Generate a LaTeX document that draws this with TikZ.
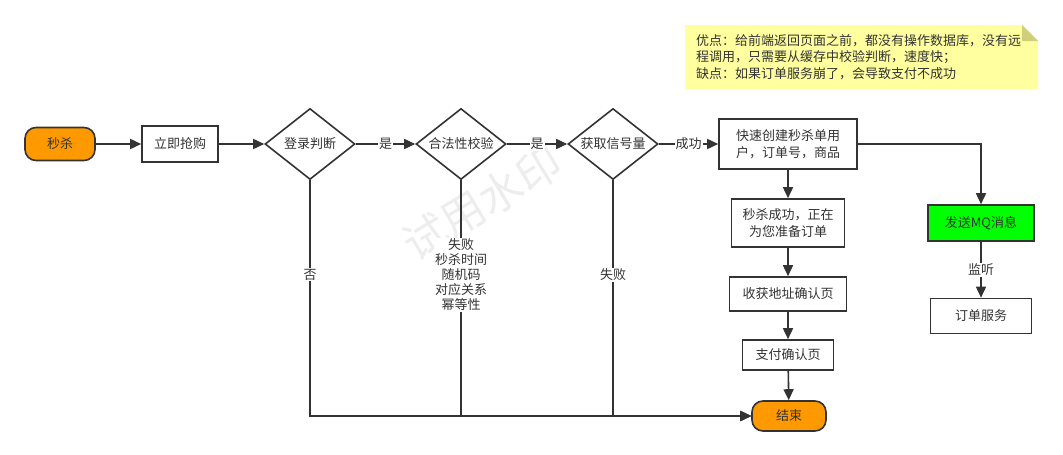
\documentclass[tikz,border=0pt]{standalone}
\usepackage{fontspec}
\setmainfont{Noto Sans CJK SC}
\usetikzlibrary{arrows.meta, positioning, shapes.geometric}

\definecolor{ink}{HTML}{333333}
\definecolor{startorange}{HTML}{FF9900}
\definecolor{mqgreen}{HTML}{00FF00}
\definecolor{notefill}{HTML}{FFFF9F}
\definecolor{notefold}{HTML}{CFCF7A}

\tikzset{
  base/.style={draw=ink, line width=1.6pt, text=ink, inner sep=0pt, align=center},
  term/.style={base, rounded corners=11pt, fill=startorange},
  proc/.style={base, rectangle, fill=white},
  decide/.style={base, diamond, aspect=1.27, fill=white, minimum width=90pt, minimum height=71pt},
  flow/.style={->, draw=ink, line width=1.6pt},
  lbl/.style={fill=white, text=ink, inner sep=1pt, align=center, font=\fontsize{13}{15}\selectfont}
}

\begin{document}
\begin{tikzpicture}[>={Triangle[length=11pt,width=10pt]}, x=1pt, y=-1pt,
  font=\fontsize{13}{17}\selectfont]
  \useasboundingbox (0,0) rectangle (1063,455);
  % watermark
  \node[rotate=31, text=black!7, font=\fontsize{44}{44}\selectfont] (mark) at (482,203) {试用水印};

  % note
  \fill[notefill] (685,25) -- (1022,25) -- (1038,41) -- (1038,89) -- (685,89) -- cycle;
  \fill[notefold] (1022,25) -- (1038,41) -- (1022,41) -- cycle;
  \node[anchor=north west, text=ink, align=left, inner sep=0pt,
        font=\fontsize{13}{16.5}\selectfont] (memo) at (696,34)
    {优点：给前端返回页面之前，都没有操作数据库，没有远\\
     程调用，只需要从缓存中校验判断，速度快；\\
     缺点：如果订单服务崩了，会导致支付不成功};

  % main flow
  \node[term, minimum width=70pt, minimum height=33pt] (start) at (60,144) {秒杀};
  \node[proc, minimum width=76pt, minimum height=36pt] (buy) at (180,144) {立即抢购};
  \node[decide] (login) at (310,144) {登录判断};
  \node[decide] (check) at (461,144) {合法性校验};
  \node[decide] (sem) at (613,144) {获取信号量};
  \node[proc, minimum width=138pt, minimum height=50pt] (create) at (788,144)
    {快速创建秒杀单用\\户，订单号，商品};
  \node[proc, minimum width=113pt, minimum height=48pt] (ok) at (788,223)
    {秒杀成功，正在\\为您准备订单};
  \node[proc, minimum width=117pt, minimum height=34pt] (addr) at (788,294) {收获地址确认页};
  \node[proc, minimum width=91pt, minimum height=30pt] (pay) at (788,355) {支付确认页};
  \node[term, minimum width=74pt, minimum height=30pt] (end) at (789,416) {结束};
  \node[proc, fill=mqgreen, minimum width=106pt, minimum height=36pt] (mq) at (981,223) {发送MQ消息};
  \node[proc, minimum width=101pt, minimum height=35pt] (order) at (981,316) {订单服务};

  \draw[flow] (start) -- (buy);
  \draw[flow] (buy) -- (login);
  \draw[flow] (login) -- node[lbl]{是} (check);
  \draw[flow] (check) -- node[lbl]{是} (sem);
  \draw[flow] (sem) -- node[lbl]{成功} (create);
  \draw[flow] (create) -- (ok);
  \draw[flow] (ok) -- (addr);
  \draw[flow] (addr) -- (pay);
  \draw[flow] (pay) -- (end);
  \draw[flow] (create) -| (mq);
  \draw[flow] (mq) -- node[lbl]{监听} (order);

  % failure branches
  \foreach \d/\t in {login/否, check/{失败\\秒杀时间\\随机码\\对应关系\\幂等性}, sem/失败}
    \draw[flow] (\d) |- node[lbl, pos=0.2]{\t} (end);
\end{tikzpicture}
\end{document}
